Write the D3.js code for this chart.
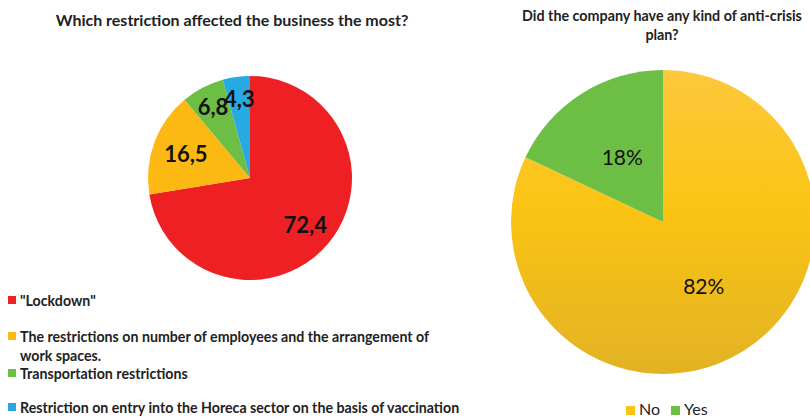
<!DOCTYPE html>
<html>
<head>
<meta charset="utf-8">
<script src="https://cdn.jsdelivr.net/npm/d3@7"></script>
<style>
  body { margin: 0; background: #fff; }
  text { font-family: Lato, "Open Sans", sans-serif; }
</style>
</head>
<body>
<div id="container"></div>
<script>
/* CONSTANTS AND GLOBALS */
const width = 810,
  height = 417

// left chart: which restriction
const restrictions = [
  '"Lockdown"',
  "The restrictions on number of employees and the arrangement of work spaces.",
  "Transportation restrictions",
  "Restriction on entry into the Horeca sector on the basis of vaccination"
]
const restrictionLabels = ["72,4", "16,5", "6,8", "4,3"]
const restrictionValues = [72.4, 16.5, 6.8, 4.3]
const restrictionColors = ["#ee2024", "#fdb913", "#6dbe45", "#27aae1"]

// right chart: anti-crisis plan
const planAnswers = ["No", "Yes"]
const planValues = [82, 18]
const planColors = ["#fbc314", "#6dbe45"]

const svg = d3.select("#container")
  .append("svg")
  .attr("width", width)
  .attr("height", height)

const defs = svg.append("defs")
const grad = defs.append("linearGradient")
  .attr("id", "noGrad")
  .attr("x1", 0).attr("y1", 0).attr("x2", 0).attr("y2", 1)
grad.append("stop").attr("offset", "0%").attr("stop-color", "#fdc83c")
grad.append("stop").attr("offset", "45%").attr("stop-color", "#fbc414")
grad.append("stop").attr("offset", "100%").attr("stop-color", "#e2b224")

const pie = d3.pie().sort(null).value(d => d)

/* LEFT PIE */
const leftR = 102
const left = svg.append("g").attr("transform", `translate(250, 178)`)
const leftArc = d3.arc().innerRadius(0).outerRadius(leftR)
const leftData = pie(restrictionValues)

left.selectAll("path")
  .data(leftData)
  .join("path")
  .attr("d", leftArc)
  .attr("fill", (d, i) => restrictionColors[i])

// label radii tuned so they sit like the original
const labelRadius = [0.71, 0.67, 0.78, 0.78]
left.selectAll(".lbl")
  .data(leftData)
  .join("text")
  .attr("class", "lbl")
  .attr("transform", (d, i) => {
    const a = (d.startAngle + d.endAngle) / 2
    const r = leftR * labelRadius[i]
    return `translate(${Math.sin(a) * r}, ${-Math.cos(a) * r})`
  })
  .attr("text-anchor", "middle")
  .attr("dy", "0.35em")
  .style("font-size", "22px")
  .style("font-weight", "bold")
  .attr("fill", "#111")
  .text((d, i) => restrictionLabels[i])

svg.append("text")
  .attr("x", 232)
  .attr("y", 20)
  .attr("text-anchor", "middle")
  .attr("dy", "0.35em")
  .style("font-size", "16px")
  .style("font-weight", "bold")
  .attr("fill", "#222")
  .text("Which restriction affected the business the most?")

// legend left, wrapping the long item to two lines
const legendRows = [
  { lines: [restrictions[0]], y: 301 },
  { lines: ["The restrictions on number of employees and the arrangement of", "work spaces."], y: 337 },
  { lines: [restrictions[2]], y: 374 },
  { lines: [restrictions[3]], y: 408 }
]
const leg = svg.append("g")
legendRows.forEach((row, i) => {
  leg.append("rect")
    .attr("x", 8).attr("y", row.y - 5)
    .attr("width", 8).attr("height", 8)
    .attr("fill", restrictionColors[i])
  row.lines.forEach((line, j) => {
    leg.append("text")
      .attr("x", 20)
      .attr("y", row.y + j * 19)
      .attr("dy", "0.35em")
      .style("font-size", "14.2px")
      .style("font-weight", "bold")
      .attr("fill", "#222")
      .text(line)
  })
})

/* RIGHT PIE */
const rightR = 152
const right = svg.append("g").attr("transform", `translate(663, 222)`)
const rightArc = d3.arc().innerRadius(0).outerRadius(rightR)
const rightData = pie(planValues)

right.selectAll("path")
  .data(rightData)
  .join("path")
  .attr("d", rightArc)
  .attr("fill", (d, i) => i === 0 ? "url(#noGrad)" : planColors[i])

right.selectAll(".lbl")
  .data(rightData)
  .join("text")
  .attr("class", "lbl")
  .attr("transform", d => {
    const a = (d.startAngle + d.endAngle) / 2
    const r = rightR * 0.5
    return `translate(${Math.sin(a) * r}, ${-Math.cos(a) * r})`
  })
  .attr("text-anchor", "middle")
  .attr("dy", "0.35em")
  .style("font-size", "21px")
  .attr("fill", "#111")
  .text(d => d.value + "%")

const titleLines = ["Did the company have any kind of anti-crisis", "plan?"]
svg.selectAll(".rtitle")
  .data(titleLines)
  .join("text")
  .attr("class", "rtitle")
  .attr("x", 662)
  .attr("y", (d, i) => 16 + i * 19)
  .attr("text-anchor", "middle")
  .attr("dy", "0.35em")
  .style("font-size", "14.3px")
  .style("font-weight", "bold")
  .attr("fill", "#222")
  .text(d => d)

const rleg = svg.append("g")
const legX = [626, 671]
planAnswers.forEach((name, i) => {
  rleg.append("rect")
    .attr("x", legX[i]).attr("y", 406)
    .attr("width", 9).attr("height", 9)
    .attr("fill", planColors[i])
  rleg.append("text")
    .attr("x", legX[i] + 13)
    .attr("y", 415)
    .style("font-size", "16px")
    .attr("fill", "#222")
    .text(name)
})
</script>
</body>
</html>
